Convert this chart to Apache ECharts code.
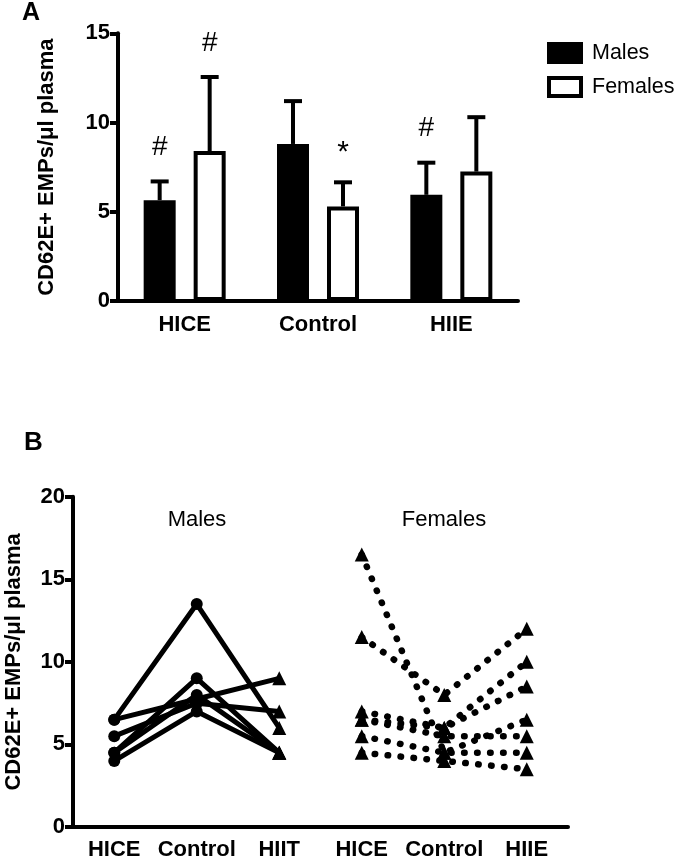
<!DOCTYPE html>
<html>
<head>
<meta charset="utf-8">
<script src="https://cdn.jsdelivr.net/npm/echarts@6/dist/echarts.min.js"></script>
<style>
html,body{margin:0;padding:0;background:#fff;}
#chart{width:675px;height:859px;}
</style>
</head>
<body>
<div id="chart"></div>
<script>
// ---------- Panel A data ----------
const barCategories = ['HICE', 'Control', 'HIIE'];
const maleMeans = [5.65, 8.8, 5.95];
const maleSEM = [1.05, 2.4, 1.8];
const femaleMeans = [8.4, 5.3, 7.25];
const femaleSEM = [4.15, 1.35, 3.05];
const maleAnnot = ['#', '', '#'];
const femaleAnnot = ['#', '*', ''];
const yTicksA = [0, 5, 10, 15];

// ---------- Panel B data ----------
const lineCategories = ['HICE', 'Control', 'HIIT', 'HICE', 'Control', 'HIIE'];
const malesSubjects = [
  [6.5, 13.5, 6],
  [6.5, 7.75, 9],
  [5.5, 7.5, 7],
  [4.5, 9, 4.5],
  [4.5, 8, 4.5],
  [4, 7, 4.5]
];
const femalesSubjects = [
  [16.5, 4.5, 6.5],
  [11.5, 8, 12],
  [7, 6, 10],
  [6.5, 6, 8.5],
  [6.5, 5.5, 5.5],
  [5.5, 4.5, 4.5],
  [4.5, 4, 3.5]
];
const yTicksB = [0, 5, 10, 15, 20];

const FONT = "'Liberation Sans', Arial, Helvetica, sans-serif";
const AXIS_W = 4;
const BAR_W = 32;
const BAR_GAP_PX = 18;

const chart = echarts.init(document.getElementById('chart'), null, {renderer: 'canvas'});

function errRender(sign, annots) {
  return function (params, api) {
    const x = api.value(0), v = api.value(1), e = api.value(2);
    const off = sign * (BAR_W + BAR_GAP_PX) / 2;
    const base = api.coord([x, v]);
    const top = api.coord([x, v + e]);
    const cx = base[0] + off;
    const children = [
      {type: 'line', shape: {x1: cx, y1: base[1], x2: cx, y2: top[1]},
       style: {stroke: '#000', lineWidth: 4}},
      {type: 'line', shape: {x1: cx - 9, y1: top[1], x2: cx + 9, y2: top[1]},
       style: {stroke: '#000', lineWidth: 4}}
    ];
    const t = annots[params.dataIndex];
    if (t) {
      children.push({type: 'text', x: cx, y: top[1] - (t === '*' ? 30 : 34),
        style: {text: t, fontSize: t === '*' ? 30 : 28, fontFamily: FONT, fill: '#000',
                align: 'center', verticalAlign: 'middle'}});
    }
    return {type: 'group', children: children};
  };
}

const series = [
  {name: 'Males', type: 'bar', xAxisIndex: 0, yAxisIndex: 0,
   data: maleMeans, barWidth: BAR_W, barGap: (BAR_GAP_PX / BAR_W * 100) + '%',
   itemStyle: {color: '#000', borderColor: '#000', borderWidth: 4}},
  {name: 'Females', type: 'bar', xAxisIndex: 0, yAxisIndex: 0,
   data: femaleMeans, barWidth: BAR_W,
   itemStyle: {color: '#fff', borderColor: '#000', borderWidth: 4}},
  {name: 'errM', type: 'custom', xAxisIndex: 0, yAxisIndex: 0, z: 5,
   data: maleMeans.map((v, i) => [i, v, maleSEM[i]]),
   renderItem: errRender(-1, maleAnnot)},
  {name: 'errF', type: 'custom', xAxisIndex: 0, yAxisIndex: 0, z: 5,
   data: femaleMeans.map((v, i) => [i, v, femaleSEM[i]]),
   renderItem: errRender(1, femaleAnnot)}
];

malesSubjects.forEach((s, k) => {
  series.push({
    name: 'M' + k, type: 'line', xAxisIndex: 1, yAxisIndex: 1,
    data: s.map((v, i) => ({value: [i, v], symbol: i < 2 ? 'circle' : 'triangle',
                            symbolSize: i < 2 ? 12 : 14})),
    lineStyle: {color: '#000', width: 5},
    itemStyle: {color: '#000'},
    showSymbol: true
  });
});
femalesSubjects.forEach((s, k) => {
  series.push({
    name: 'F' + k, type: 'line', xAxisIndex: 1, yAxisIndex: 1,
    data: s.map((v, i) => ({value: [i + 3, v], symbol: 'triangle', symbolSize: 14})),
    lineStyle: {color: '#000', width: 6.5, type: [0.5, 12.5], cap: 'round'},
    itemStyle: {color: '#000'},
    showSymbol: true
  });
});

const axisLabelStyle = {color: '#000', fontSize: 22, fontWeight: 'bold', fontFamily: FONT};
const yName = 'CD62E+ EMPs/μl plasma';

chart.setOption({
  animation: false,
  backgroundColor: '#fff',
  textStyle: {fontFamily: FONT},
  grid: [
    {left: 118, top: 33.3, width: 400, height: 267.7, outerBoundsMode: 'none', containLabel: false},
    {left: 73, top: 496.7, width: 495, height: 330.3, outerBoundsMode: 'none', containLabel: false}
  ],
  legend: {
    left: 542, top: 37, orient: 'vertical', itemWidth: 32, itemHeight: 18, itemGap: 12,
    textStyle: {fontSize: 21.5, color: '#000', fontFamily: FONT, padding: [0, 0, 0, 6]},
    data: [
      {name: 'Males', icon: 'rect', itemStyle: {color: '#000', borderColor: '#000', borderWidth: 4}},
      {name: 'Females', icon: 'rect', itemStyle: {color: '#fff', borderColor: '#000', borderWidth: 4}}
    ],
    selectedMode: false
  },
  xAxis: [
    {type: 'category', gridIndex: 0, data: barCategories,
     axisLine: {lineStyle: {color: '#000', width: AXIS_W}},
     axisTick: {alignWithLabel: true, length: 8, lineStyle: {color: '#000', width: AXIS_W}},
     axisLabel: Object.assign({margin: 13}, axisLabelStyle)},
    {type: 'category', gridIndex: 1, data: lineCategories,
     axisLine: {lineStyle: {color: '#000', width: AXIS_W}},
     axisTick: {alignWithLabel: true, length: 8, lineStyle: {color: '#000', width: AXIS_W}},
     axisLabel: Object.assign({margin: 12, interval: 0}, axisLabelStyle)}
  ],
  yAxis: [
    {type: 'value', gridIndex: 0, min: yTicksA[0], max: yTicksA[yTicksA.length - 1], interval: 5,
     splitLine: {show: false},
     axisLine: {show: true, lineStyle: {color: '#000', width: AXIS_W}},
     axisTick: {show: true, length: 8, lineStyle: {color: '#000', width: AXIS_W}},
     axisLabel: Object.assign({margin: 8}, axisLabelStyle),
     name: yName, nameLocation: 'middle', nameRotate: 90, nameGap: 60,
     nameTextStyle: {color: '#000', fontSize: 22, fontWeight: 'bold', fontFamily: FONT}},
    {type: 'value', gridIndex: 1, min: yTicksB[0], max: yTicksB[yTicksB.length - 1], interval: 5,
     splitLine: {show: false},
     axisLine: {show: true, lineStyle: {color: '#000', width: AXIS_W}},
     axisTick: {show: true, length: 8, lineStyle: {color: '#000', width: AXIS_W}},
     axisLabel: Object.assign({margin: 8}, axisLabelStyle),
     name: yName, nameLocation: 'middle', nameRotate: 90, nameGap: 48,
     nameTextStyle: {color: '#000', fontSize: 22, fontWeight: 'bold', fontFamily: FONT}}
  ],
  graphic: [
    {type: 'text', left: 22, top: 1, style: {text: 'A', fontSize: 25, fontWeight: 'bold', fontFamily: FONT, fill: '#000'}},
    {type: 'text', left: 24, top: 430, style: {text: 'B', fontSize: 26, fontWeight: 'bold', fontFamily: FONT, fill: '#000'}},
    {type: 'text', x: 197, y: 520, style: {text: 'Males', fontSize: 22, fontFamily: FONT, fill: '#000', align: 'center', verticalAlign: 'middle'}},
    {type: 'text', x: 444, y: 520, style: {text: 'Females', fontSize: 22, fontFamily: FONT, fill: '#000', align: 'center', verticalAlign: 'middle'}}
  ],
  series: series
});
</script>
</body>
</html>
